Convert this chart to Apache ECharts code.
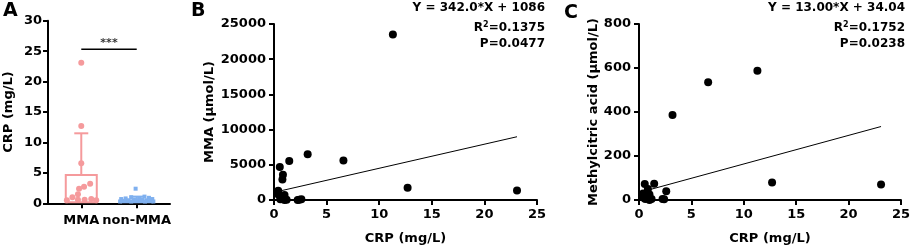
<!DOCTYPE html>
<html>
<head>
<meta charset="utf-8">
<script src="https://cdn.jsdelivr.net/npm/echarts@6/dist/echarts.min.js"></script>
<style>
  html, body { margin: 0; padding: 0; background: #fff; }
  #chart { width: 913px; height: 250px; }
</style>
</head>
<body>
<div id="chart"></div>
<script>
// panel A: CRP by group
const groups = ['MMA', 'non-MMA'];
const groupColors = ['#f59a9c', '#7fb0ef'];
const barMeans = [4.8, 0.6];
const barUpper = [11.5, 1.1];
const mmaCrp = [23.1, 12.7, 6.6, 3.2, 2.7, 2.4, 1.5, 1.0, 0.5, 0.6, 0.6, 0.7, 0.5];
const mmaJitter = [0, 0, 0, 0.16, 0.05, -0.04, -0.06, -0.16, -0.26, -0.06, 0.06, 0.18, 0.27];
const nonMmaCrp = [2.4, 1.1, 1.0, 0.9, 0.8, 0.8, 0.7, 0.7, 0.6, 0.6, 0.5, 0.5, 0.5, 0.4, 0.4, 0.4, 0.3, 0.3, 0.3, 0.3];
const nonMmaJitter = [-0.02, 0.14, -0.1, 0.22, -0.2, 0.05, 0.28, -0.28, 0.1, -0.05, 0.18, -0.15, 0.0, 0.25, -0.24, 0.08, -0.1, 0.15, -0.3, 0.3];
const sigLevel = 25.3;
const yTicksA = [0, 30, 5];

// panels B and C: correlation with CRP
const crp = [11.3, 3.2, 6.6, 1.45, 0.55, 0.85, 0.8, 12.7, 23.1, 0.4, 0.45, 1.0, 0.6, 1.0, 0.8, 1.2, 2.25, 2.6, 2.4, 0.7];
const mma = [23500, 6500, 5600, 5550, 4700, 3600, 2900, 1750, 1350, 1300, 700, 700, 100, 0, 200, 50, 0, 100, 50, 300];
const mca = [588, 386, 535, 74, 73, 50, 20, 79, 70, 30, 10, 25, 5, 0, 15, 5, 5, 40, 3, 28];
const fitB = [[0.4, 1223], [23.1, 8986]];
const fitC = [[0.4, 39], [23.1, 334]];
const xTicks = [0, 25, 5];
const yTicksB = [0, 25000, 5000];
const yTicksC = [0, 800, 200];

const FONT = 'DejaVu Sans';
const chart = echarts.init(document.getElementById('chart'), null, { renderer: 'canvas' });

const labelStyle = { color: '#000', fontFamily: FONT, fontWeight: 'bold', fontSize: 13, formatter: (v) => String(v) };

const axisCommon = {
  axisLine: { show: true, lineStyle: { color: '#000', width: 2 } },
  axisTick: { show: true, length: 5, lineStyle: { color: '#000', width: 2 } },
  splitLine: { show: false },
  axisLabel: labelStyle,
  nameTextStyle: { color: '#000', fontFamily: FONT, fontWeight: 'bold', fontSize: 13 },
  nameLocation: 'middle'
};

function valueAxis(extra) {
  return Object.assign({}, axisCommon, { type: 'value' }, extra);
}

const errorBarSeries = {
  type: 'custom',
  xAxisIndex: 0,
  yAxisIndex: 0,
  z: 3,
  data: barMeans.map((m, i) => [i + 1, m, barUpper[i]]),
  renderItem: (params, api) => {
    const p0 = api.coord([api.value(0), api.value(1)]);
    const p1 = api.coord([api.value(0), api.value(2)]);
    const color = groupColors[params.dataIndex];
    return {
      type: 'group',
      children: [
        { type: 'line', shape: { x1: p0[0], y1: p0[1], x2: p1[0], y2: p1[1] }, style: { stroke: color, lineWidth: 2 } },
        { type: 'line', shape: { x1: p1[0] - 7, y1: p1[1], x2: p1[0] + 7, y2: p1[1] }, style: { stroke: color, lineWidth: 2 } }
      ]
    };
  }
};

function statText(right, lines) {
  return lines.map((t, i) => ({
    type: 'text',
    right: right,
    top: [2, 21, 38][i],
    style: {
      text: t,
      fontFamily: FONT,
      fontWeight: 'bold',
      fontSize: 12,
      fill: '#000',
      rich: { sup: { fontFamily: FONT, fontWeight: 'bold', fontSize: 8, verticalAlign: 'top', padding: [0, 0, 6, 0] } }
    }
  }));
}

function panelLetter(text, x, y) {
  return {
    type: 'text', left: x, top: y,
    style: { text: text, fontFamily: FONT, fontWeight: 'bold', fontSize: 19, fill: '#000' }
  };
}

const option = {
  animation: false,
  backgroundColor: '#fff',
  grid: [
    { left: 48, top: 20.7, width: 122, height: 182.6 },
    { left: 274, top: 24, width: 263, height: 176 },
    { left: 639, top: 24, width: 263, height: 176 }
  ],
  xAxis: [
    valueAxis({
      gridIndex: 0, min: 0.4, max: 2.6,
      axisTick: { show: true, length: 5, lineStyle: { color: '#000', width: 2 }, customValues: [1, 2] },
      axisLabel: Object.assign({}, labelStyle, {
        customValues: [1, 2], margin: 11,
        formatter: (v) => groups[Math.round(v) - 1] || ''
      })
    }),
    valueAxis({
      gridIndex: 1, min: xTicks[0], max: xTicks[1], interval: xTicks[2],
      name: 'CRP (mg/L)', nameGap: 32,
      axisLabel: Object.assign({}, labelStyle, { margin: 8 })
    }),
    valueAxis({
      gridIndex: 2, min: xTicks[0], max: xTicks[1], interval: xTicks[2],
      name: 'CRP (mg/L)', nameGap: 32,
      axisLabel: Object.assign({}, labelStyle, { margin: 8 })
    })
  ],
  yAxis: [
    valueAxis({
      gridIndex: 0, min: yTicksA[0], max: yTicksA[1], interval: yTicksA[2],
      name: 'CRP (mg/L)', nameGap: 33,
      axisLabel: Object.assign({}, labelStyle, { margin: 6 })
    }),
    valueAxis({
      gridIndex: 1, min: yTicksB[0], max: yTicksB[1], interval: yTicksB[2],
      name: 'MMA (μmol/L)', nameGap: 58,
      axisLabel: Object.assign({}, labelStyle, { margin: 8 })
    }),
    valueAxis({
      gridIndex: 2, min: yTicksC[0], max: yTicksC[1], interval: yTicksC[2],
      name: 'Methylcitric acid (μmol/L)', nameGap: 39,
      axisLabel: Object.assign({}, labelStyle, { margin: 8 })
    })
  ],
  series: [
    {
      type: 'bar',
      xAxisIndex: 0,
      yAxisIndex: 0,
      barWidth: 33,
      z: 2,
      data: barMeans.map((m, i) => ({
        value: [i + 1, m],
        itemStyle: { color: '#fff', borderColor: groupColors[i], borderWidth: 2 }
      }))
    },
    errorBarSeries,
    {
      type: 'scatter',
      xAxisIndex: 0,
      yAxisIndex: 0,
      symbol: 'circle',
      symbolSize: 6,
      z: 4,
      itemStyle: { color: groupColors[0], opacity: 1 },
      data: mmaCrp.map((v, i) => [1 + mmaJitter[i], v])
    },
    {
      type: 'scatter',
      xAxisIndex: 0,
      yAxisIndex: 0,
      symbol: 'rect',
      symbolSize: 4,
      z: 4,
      itemStyle: { color: groupColors[1], opacity: 1 },
      data: nonMmaCrp.map((v, i) => [2 + nonMmaJitter[i], v])
    },
    {
      type: 'line',
      xAxisIndex: 0,
      yAxisIndex: 0,
      symbol: 'none',
      silent: true,
      lineStyle: { color: '#000', width: 1.5 },
      data: [[1, sigLevel], [2, sigLevel]]
    },
    {
      type: 'scatter',
      xAxisIndex: 0,
      yAxisIndex: 0,
      symbolSize: 0,
      silent: true,
      label: {
        show: true, position: 'top', distance: 1, formatter: '***',
        color: '#000', fontFamily: FONT, fontWeight: 'bold', fontSize: 11
      },
      data: [[1.5, sigLevel]]
    },
    {
      type: 'scatter',
      xAxisIndex: 1,
      yAxisIndex: 1,
      symbolSize: 8,
      itemStyle: { color: '#000', opacity: 1 },
      data: crp.map((x, i) => [x, mma[i]])
    },
    {
      type: 'line',
      xAxisIndex: 1,
      yAxisIndex: 1,
      symbol: 'none',
      lineStyle: { color: '#000', width: 1 },
      data: fitB
    },
    {
      type: 'scatter',
      xAxisIndex: 2,
      yAxisIndex: 2,
      symbolSize: 8,
      itemStyle: { color: '#000', opacity: 1 },
      data: crp.map((x, i) => [x, mca[i]])
    },
    {
      type: 'line',
      xAxisIndex: 2,
      yAxisIndex: 2,
      symbol: 'none',
      lineStyle: { color: '#000', width: 1 },
      data: fitC
    }
  ],
  graphic: [
    panelLetter('A', 3, 2),
    panelLetter('B', 191, 2),
    panelLetter('C', 564, 4)
  ].concat(
    statText(913 - 545, ['Y = 342.0*X + 1086', 'R{sup|2}=0.1375', 'P=0.0477']),
    statText(913 - 905, ['Y = 13.00*X + 34.04', 'R{sup|2}=0.1752', 'P=0.0238'])
  )
};

chart.setOption(option);
window.addEventListener('resize', () => chart.resize());
</script>
</body>
</html>
